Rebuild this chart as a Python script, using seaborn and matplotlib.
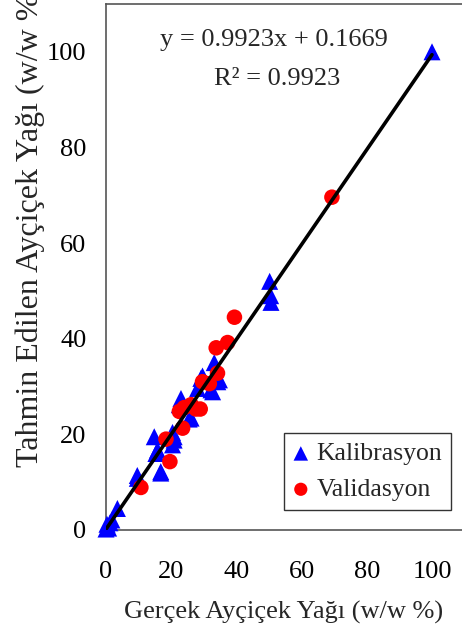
import numpy as np
import pandas as pd
import matplotlib
matplotlib.use("Agg")
import matplotlib.pyplot as plt
import seaborn as sns

# Calibration set (actual vs. predicted sunflower oil, w/w %)
kal_gercek = [0.0, 0.3, 0.8, 1.2, 1.8, 3.5, 9.6, 9.6, 14.8, 15.3, 15.8, 16.8, 16.8,
              20.4, 20.4, 20.9, 20.9, 22.5, 23.0, 25.5, 26.1, 27.6, 28.1, 29.1, 29.6,
              32.2, 32.7, 33.2, 34.3, 34.8, 50.2, 50.5, 50.6, 100.0]
kal_tahmin = [0.2, 1.2, 0.4, 1.5, 2.1, 4.5, 10.8, 11.4, 19.5, 16.0, 16.7, 12.2, 11.9,
              20.4, 17.8, 18.8, 19.5, 26.2, 27.5, 23.2, 23.4, 25.8, 29.6, 31.7, 32.2,
              29.3, 28.9, 35.0, 31.0, 31.4, 52.0, 49.0, 47.6, 100.0]

# Validation set
val_gercek = [10.7, 18.4, 19.6, 23.5, 22.5, 24.0, 26.1, 27.6, 28.9, 29.6, 31.7,
              34.2, 33.8, 37.3, 39.4, 69.3]
val_tahmin = [8.9, 19.0, 14.3, 21.3, 24.8, 25.6, 26.2, 25.3, 25.3, 31.0, 30.6,
              32.8, 38.1, 39.2, 44.5, 69.6]

# Fitted calibration line
egim = 0.9923
kesisim = 0.1669
r_kare = 0.9923

x_ticks = [0, 20, 40, 60, 80, 100]
y_ticks = [0, 20, 40, 60, 80, 100]

sns.set_style("white")
plt.rcParams["font.family"] = ["Liberation Serif", "DejaVu Serif"]

fig = plt.figure(figsize=(4.62, 6.35), dpi=100)
ax = fig.add_axes([106 / 462, 105 / 635, 356 / 462, 526 / 635])

kal = pd.DataFrame({"gercek": kal_gercek, "tahmin": kal_tahmin})
val = pd.DataFrame({"gercek": val_gercek, "tahmin": val_tahmin})

hat_x = np.array([0.0, 100.0])
hat = pd.DataFrame({"x": hat_x, "y": egim * hat_x + kesisim})
sns.lineplot(data=hat, x="x", y="y", ax=ax, color="black", lw=2.6, zorder=4,
             legend=False)

sns.scatterplot(data=kal, x="gercek", y="tahmin", ax=ax, marker="^", s=150,
                color="#0000ff", edgecolor="none", linewidth=0, zorder=3,
                clip_on=False, label="Kalibrasyon")
sns.scatterplot(data=val, x="gercek", y="tahmin", ax=ax, marker="o", s=125,
                color="#ff0000", edgecolor="none", linewidth=0, zorder=3,
                clip_on=False, label="Validasyon")

ax.set_xlim(0, 109.2)
ax.set_ylim(0, 110)
ax.set_xticks(x_ticks)
ax.set_yticks(y_ticks)
ax.tick_params(axis="both", direction="out", labelsize=19, colors="black")
ax.tick_params(axis="x", length=5, width=1, pad=17, color="#333333")
ax.tick_params(axis="y", length=7, width=1, pad=7, color="#333333")

for side in ["left", "top", "bottom"]:
    ax.spines[side].set_color("#555555")
    ax.spines[side].set_linewidth(1.2)
ax.spines["right"].set_visible(False)

ax.set_xlabel("Gerçek Ayçiçek Yağı (w/w %)", fontsize=19, labelpad=13)
ax.set_ylabel("")
fig.text(30 / 462, (635 - 467) / 635, "Tahmin Edilen Ayçiçek Yağı (w/w %)",
         rotation=90, ha="center", va="bottom", fontsize=23)

ax.text(51.5, 102.5, f"y = {egim:.4f}x + {kesisim:.4f}", ha="center",
        va="center", fontsize=19)
ax.text(52.5, 94.4, f"R² = {r_kare:.4f}", ha="center", va="center", fontsize=19)

leg = ax.legend(loc="lower right", bbox_to_anchor=(0.969, 0.038), fontsize=18.5,
                frameon=True, fancybox=False, edgecolor="black",
                handletextpad=0.3, borderpad=0.35, labelspacing=0.5,
                handlelength=0.6, markerscale=0.85, borderaxespad=0)
leg.get_frame().set_linewidth(1.0)

fig.savefig("out.png", dpi=100)
